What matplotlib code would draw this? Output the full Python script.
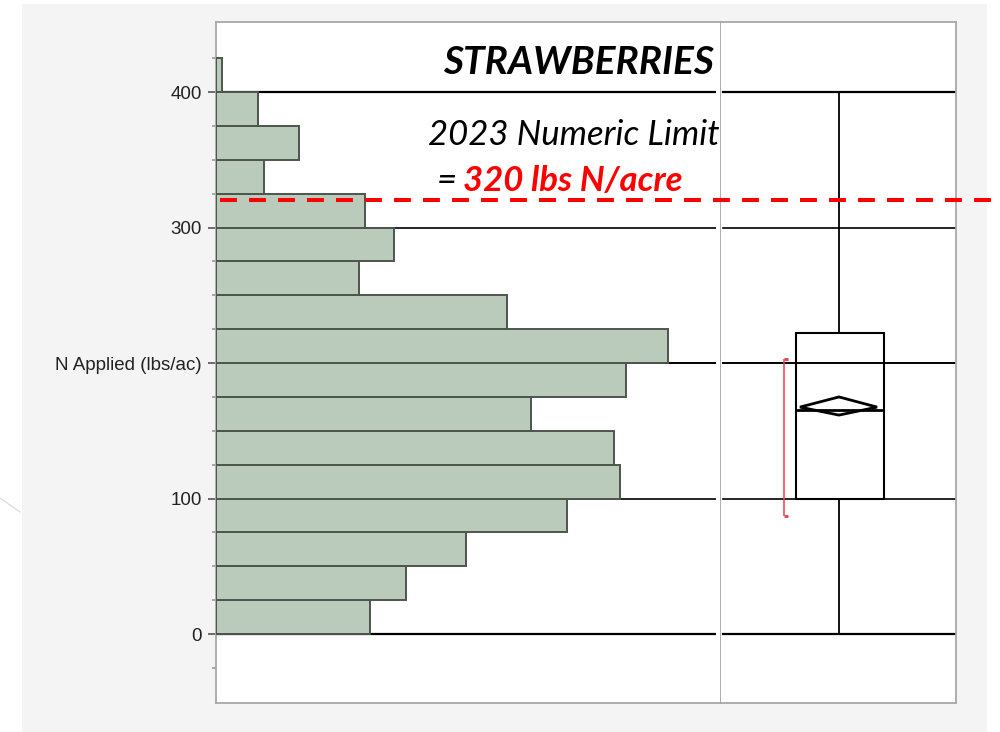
import matplotlib
matplotlib.use('Agg')
import matplotlib.pyplot as plt
import matplotlib.transforms as mtransforms
from matplotlib.patches import Rectangle, Polygon
from matplotlib.lines import Line2D
import numpy as np

# histogram of N applied (lbs/ac), bins of 25
bin_edges = np.arange(0, 426, 25)
counts = [26, 32, 42, 59, 68, 67, 53, 69, 76, 49, 24, 30, 25, 8, 14, 7, 1]

# box plot summary
q1, median, q3 = 100, 165, 222
whisker_lo, whisker_hi = 0, 400
mean, mean_lo, mean_hi = 167.5, 161.6, 175
shortest_half = [87, 203]

limit = 320
major_ticks = [0, 100, 200, 300, 400]
major_labels = ['0', '100', 'N Applied (lbs/ac)', '300', '400']
minor_ticks = np.arange(-25, 426, 25)

title = 'STRAWBERRIES'
limit_text = '2023 Numeric Limit'
limit_value = '320 lbs N/acre'

tickfont = ['Liberation Sans', 'DejaVu Sans']
hum = ['Lato', 'Open Sans', 'DejaVu Sans']

fig = plt.figure(figsize=(10, 7.32), dpi=100)
fig.patch.set_facecolor('white')
fig.patches.append(Rectangle((0.022, 0), 0.965, 1 - 4 / 732, transform=fig.transFigure,
                             facecolor='#f4f4f4', edgecolor='none', zorder=-10))
fig.add_artist(Line2D([0, 0.02], [1 - 498 / 732, 1 - 512 / 732], color='#d6d6d6', lw=0.8))

ylim = (-50.9, 451.7)
frame = '#a8a8a8'
grid_w = [1.6, 1.2, 1.4, 1.2, 1.6]

# left: histogram
ax = fig.add_axes([0.216, 0.0396, 0.505, 0.9303])
ax.set_facecolor('white')
ax.barh(bin_edges[:-1], counts, height=25, align='edge', color='#bacbbb',
        edgecolor='#4d554d', linewidth=1.4, zorder=3)
ax.hlines(major_ticks, 0, 84.2, color='black', lw=grid_w, zorder=1)
ax.set_xlim(0, 85.0)
ax.set_ylim(*ylim)
ax.set_xticks([])
ax.set_yticks(major_ticks)
ax.set_yticklabels(major_labels, family=tickfont, fontsize=13.5, color='#222222')
ax.set_yticks(minor_ticks, minor=True)
ax.tick_params(axis='y', which='major', length=6, width=1.2, color='#555555', pad=4)
ax.tick_params(axis='y', which='minor', length=3, width=1.2, color='#999999')
for s in ax.spines.values():
    s.set_color(frame)
    s.set_linewidth(1.3)

# right: box plot
axb = fig.add_axes([0.721, 0.0396, 0.235, 0.9303])
axb.set_facecolor('white')
axb.set_xlim(0, 1)
axb.set_ylim(*ylim)
axb.set_xticks([])
axb.set_yticks([])
for y, w in zip(major_ticks, grid_w):
    axb.axhline(y, xmin=0.01, color='black', lw=w, zorder=1)
for k, s in axb.spines.items():
    s.set_color(frame)
    s.set_linewidth(1.3)
axb.spines['left'].set_visible(False)

bx0, bx1, cx = 0.319, 0.694, 0.502
axb.add_patch(Rectangle((bx0, q1), bx1 - bx0, q3 - q1, fill=False,
                        edgecolor='black', lw=1.5, zorder=3))
axb.hlines(median, bx0, bx1, color='black', lw=2.0, zorder=4)
axb.vlines(cx, q3, whisker_hi, color='black', lw=1.3, zorder=3)
axb.vlines(cx, whisker_lo, q1, color='black', lw=1.3, zorder=3)
axb.add_patch(Polygon([[0.336, mean], [cx, mean_hi], [0.664, mean], [cx, mean_lo]],
                      closed=True, fill=False, edgecolor='black', lw=2.0, zorder=5))
axb.vlines(0.268, shortest_half[0], shortest_half[1], color='#e8404f', lw=1.1, zorder=4)
axb.hlines(shortest_half, 0.268, 0.285, color='#e8404f', lw=2.0, zorder=4)

# limit line and annotations
trans = mtransforms.blended_transform_factory(fig.transFigure, ax.transData)
fig.add_artist(Line2D([0.220, 1.0], [limit, limit], transform=trans, color='#ff0000',
                      lw=2.9, linestyle=(0, (4.2, 3.0)), zorder=10))

fig.text(0.714, 1 - 62 / 732, title, ha='right', va='center', family=hum,
         fontsize=28, fontweight='bold', fontstyle='italic', color='black')
fig.text(0.720, 1 - 135 / 732, limit_text, ha='right', va='center', family=hum,
         fontsize=25, fontstyle='italic', color='black')
fig.text(0.437, 1 - 181 / 732, '=', ha='left', va='center', family=hum,
         fontsize=25, fontstyle='italic', color='black')
fig.text(0.463, 1 - 181 / 732, limit_value, ha='left', va='center', family=hum,
         fontsize=25, fontweight='bold', fontstyle='italic', color='#ff0000')

fig.savefig('out.png', dpi=100, facecolor=fig.get_facecolor())
